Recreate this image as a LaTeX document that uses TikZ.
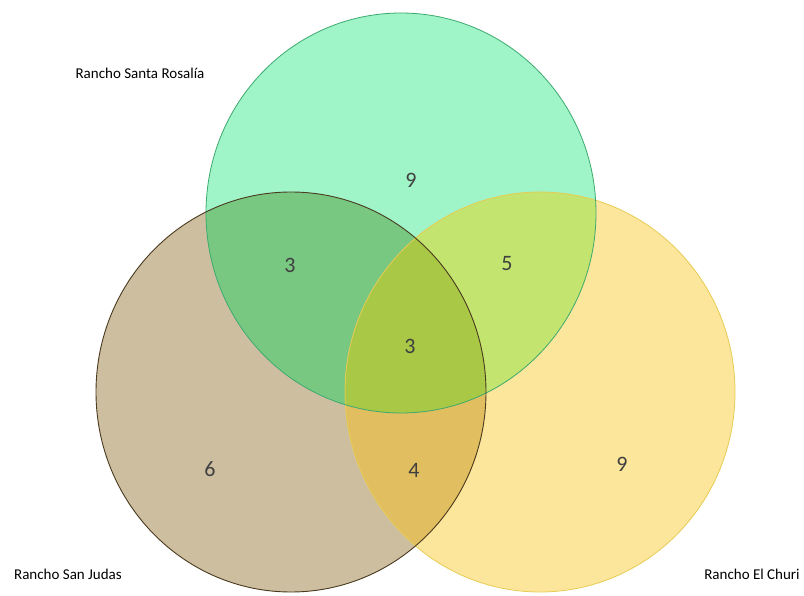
\documentclass[tikz,border=0pt]{standalone}
\usepackage{fontspec}
\setmainfont{Carlito}
\definecolor{cG}{HTML}{A0F5C8}
\definecolor{cB}{HTML}{CDBEA0}
\definecolor{cY}{HTML}{FCE69B}
\definecolor{cGB}{HTML}{78C882}
\definecolor{cGY}{HTML}{C3E46E}
\definecolor{cBY}{HTML}{E1BE5F}
\definecolor{cGBY}{HTML}{A8C846}
\definecolor{lG}{HTML}{3CAA6E}
\definecolor{lB}{HTML}{4A3A20}
\definecolor{lY}{HTML}{E6CC55}
\definecolor{numc}{HTML}{404040}
\tikzset{
  num/.style={font=\fontsize{22}{24}\selectfont, text=numc, inner sep=0pt},
  lab/.style={font=\fontsize{15}{17}\selectfont, text=black, inner sep=0pt},
}
\begin{document}
\begin{tikzpicture}[x=1pt,y=-1pt]
\useasboundingbox (0,0) rectangle (804,596);
\fill[white] (0,0) rectangle (804,596);
\def\sz{x radius=195, y radius=200}
\coordinate (G) at (401,213);
\coordinate (B) at (291,392);
\coordinate (Y) at (540,392);
\fill[cB] (B) ellipse [x radius=195, y radius=200];
\fill[cG] (G) ellipse [x radius=195, y radius=200];
\fill[cY] (Y) ellipse [x radius=195, y radius=200];
\begin{scope}\clip (B) ellipse [x radius=195, y radius=200]; \fill[cGB] (G) ellipse [x radius=195, y radius=200];\end{scope}
\begin{scope}\clip (G) ellipse [x radius=195, y radius=200]; \fill[cGY] (Y) ellipse [x radius=195, y radius=200];\end{scope}
\begin{scope}\clip (B) ellipse [x radius=195, y radius=200]; \fill[cBY] (Y) ellipse [x radius=195, y radius=200];\end{scope}
\begin{scope}\clip (B) ellipse [x radius=195, y radius=200]; \clip (G) ellipse [x radius=195, y radius=200]; \fill[cGBY] (Y) ellipse [x radius=195, y radius=200];\end{scope}
\draw[lY, line width=0.8pt] (Y) ellipse [x radius=195, y radius=200];
\draw[lG, line width=0.8pt] (G) ellipse [x radius=195, y radius=200];
\draw[lB, line width=0.9pt] (B) ellipse [x radius=195, y radius=200];
\node[num] (n1) at (411,180) {9};
\node[num] (n2) at (290,265) {3};
\node[num] (n3) at (507,264) {5};
\node[num] (n4) at (410,346) {3};
\node[num] (n5) at (210,469) {6};
\node[num] (n6) at (414,470) {4};
\node[num] (n7) at (622,464) {9};
\node[lab] (l1) at (140,73) {Rancho Santa Rosalía};
\node[lab] (l2) at (68,574) {Rancho San Judas};
\node[lab] (l3) at (752,574) {Rancho El Churi};
\end{tikzpicture}
\end{document}
